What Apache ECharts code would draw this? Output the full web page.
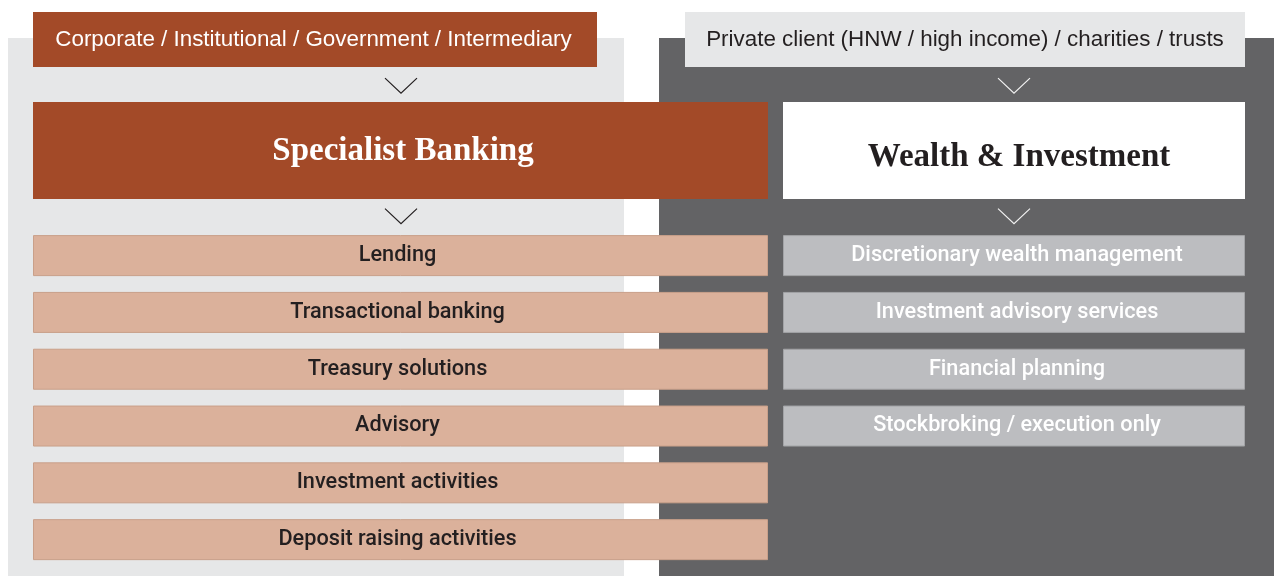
<!DOCTYPE html>
<html>
<head>
<meta charset="utf-8">
<script src="https://cdn.jsdelivr.net/npm/echarts@6/dist/echarts.min.js"></script>
<style>
html,body{margin:0;padding:0;background:#ffffff;}
#chart{width:1274px;height:576px;}
</style>
</head>
<body>
<div id="chart"></div>
<script>
// ---- data ----
const columns = ['Specialist Banking side', 'Wealth & Investment side'];
const segments = [
  'Corporate / Institutional / Government / Intermediary',
  'Private client (HNW / high income) / charities / trusts'
];
const divisions = ['Specialist Banking', 'Wealth & Investment'];
const sbServices = [
  'Lending',
  'Transactional banking',
  'Treasury solutions',
  'Advisory',
  'Investment activities',
  'Deposit raising activities'
];
const wiServices = [
  'Discretionary wealth management',
  'Investment advisory services',
  'Financial planning',
  'Stockbroking / execution only'
];

// ---- layout (px offsets relative to column band centre, band = 637px) ----
const BAND = 637;
const UNIT = 56.8; // px per service row
const LAYOUT = [
  { bg: [-310.5, 305.5], head: [-285.5, 278.5], box: [-285.5, 449.5], chev: 82.5,
    headFill: '#a34a28', headText: '#ffffff', titleFill: '#a34a28', titleText: '#ffffff', titleDy: 1,
    panel: '#e6e7e8', itemFill: '#dbb19b', itemStroke: '#c9a08a', itemText: '#231f20', chevStroke: '#231f20' },
  { bg: [-296.5, 330], head: [-270.5, 289.5], box: [-172.5, 289.5], chev: 58.5,
    headFill: '#e6e7e8', headText: '#231f20', titleFill: '#ffffff', titleText: '#231f20', titleDy: 7,
    panel: '#636365', itemFill: '#bcbdc0', itemStroke: '#a2a3a6', itemText: '#ffffff', chevStroke: '#f2f2f2' }
];
const ROW = { panelTop: -3.83, header: -3.803, chev1: -2.993, title: -1.849, chev2: -0.695 };

const SANS = '"Liberation Sans", Arial, sans-serif';
const SERIF = '"Liberation Serif", "Times New Roman", serif';

// ---- build elements ----
const items = [];
[0, 1].forEach(c => items.push({ value: [c, ROW.panelTop], kind: 'panel' }));
segments.forEach((t, c) => items.push({ value: [c, ROW.header], kind: 'header', text: t }));
[0, 1].forEach(c => items.push({ value: [c, ROW.chev1], kind: 'chev' }));
divisions.forEach((t, c) => items.push({ value: [c, ROW.title], kind: 'title', text: t }));
[0, 1].forEach(c => items.push({ value: [c, ROW.chev2], kind: 'chev' }));
sbServices.forEach((t, i) => items.push({ value: [0, i], kind: 'item', text: t }));
wiServices.forEach((t, i) => items.push({ value: [1, i], kind: 'item', text: t }));

function renderItem(params, api) {
  const d = items[params.dataIndex];
  const c = api.value(0);
  const p = api.coord([c, api.value(1)]);
  const s = api.size([1, 0])[0] / BAND;
  const u = api.size([0, 1])[1] / UNIT;
  const L = LAYOUT[c];
  const cx = p[0], cy = p[1];
  if (d.kind === 'panel') {
    const x0 = cx + L.bg[0] * s, x1 = cx + L.bg[1] * s;
    const bottom = params.coordSys.y + params.coordSys.height;
    return { type: 'rect', shape: { x: x0, y: cy, width: x1 - x0, height: bottom - cy }, style: { fill: L.panel } };
  }
  if (d.kind === 'header') {
    const x0 = cx + L.head[0] * s, x1 = cx + L.head[1] * s, h = 55 * u;
    return { type: 'group', children: [
      { type: 'rect', shape: { x: x0, y: cy - h / 2, width: x1 - x0, height: h }, style: { fill: L.headFill } },
      { type: 'text', style: { x: (x0 + x1) / 2 + (c === 0 ? -1.5 : 0), y: cy, text: d.text, fill: L.headText, font: '22.4px ' + SANS, align: 'center', verticalAlign: 'middle' } }
    ] };
  }
  if (d.kind === 'chev') {
    const x = cx + L.chev * s, hw = 16 * s, hh = 7.5 * u;
    return { type: 'polyline', shape: { points: [[x - hw, cy - hh], [x, cy + hh], [x + hw, cy - hh]] }, style: { stroke: L.chevStroke, lineWidth: 1.2, fill: null } };
  }
  if (d.kind === 'title') {
    const x0 = cx + L.box[0] * s, x1 = cx + L.box[1] * s, h = 97 * u;
    return { type: 'group', children: [
      { type: 'rect', shape: { x: x0, y: cy - h / 2, width: x1 - x0, height: h }, style: { fill: L.titleFill } },
      { type: 'text', style: { x: (x0 + x1) / 2 + (c === 0 ? 2.5 : 5), y: cy + L.titleDy * u, text: d.text, fill: L.titleText, font: 'bold 33px ' + SERIF, align: 'center', verticalAlign: 'middle' } }
    ] };
  }
  // service item
  const x0 = cx + L.box[0] * s, x1 = cx + L.box[1] * s, h = 41 * u;
  return { type: 'group', children: [
    { type: 'rect', shape: { x: x0 + 0.5, y: cy - h / 2 + 0.5, width: x1 - x0 - 1, height: h - 1 }, style: { fill: L.itemFill, stroke: L.itemStroke, lineWidth: 1 } },
    { type: 'text', style: { x: (x0 + x1) / 2 - (c === 0 ? 3 : -3), y: cy, text: d.text, fill: L.itemText, font: '500 21.7px Roboto, ' + SANS, align: 'center', verticalAlign: 'middle' } }
  ] };
}

const chart = echarts.init(document.getElementById('chart'), null, { renderer: 'canvas' });
chart.setOption({
  animation: false,
  backgroundColor: '#ffffff',
  grid: { left: 0, right: 0, top: 0, bottom: 0 },
  xAxis: { type: 'category', data: columns, boundaryGap: true, show: false },
  yAxis: { type: 'value', inverse: true, min: -4.5, max: 5.64, show: false },
  series: [{
    type: 'custom',
    renderItem: renderItem,
    clip: false,
    data: items
  }]
});
</script>
</body>
</html>
